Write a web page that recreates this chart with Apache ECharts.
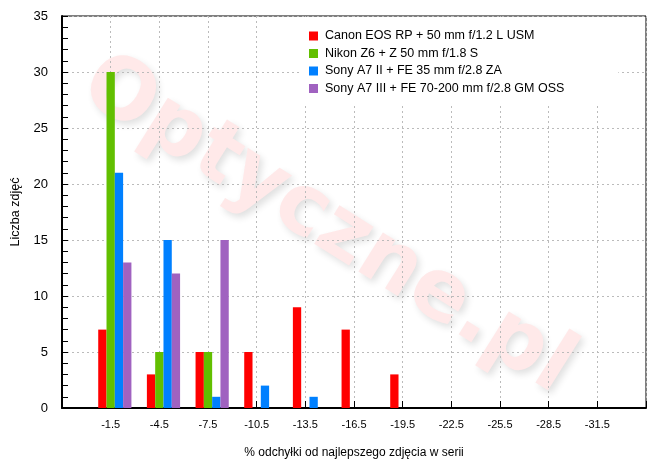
<!DOCTYPE html>
<html>
<head>
<meta charset="utf-8">
<script src="https://cdn.jsdelivr.net/npm/echarts@6/dist/echarts.min.js"></script>
<style>
  html, body { margin: 0; padding: 0; background: #fff; }
  #main { width: 670px; height: 463px; }
</style>
</head>
<body>
<div id="main"></div>
<script>
// kategorie osi X (% odchyłki)
var categories = ['-1.5', '-4.5', '-7.5', '-10.5', '-13.5', '-16.5', '-19.5', '-22.5', '-25.5', '-28.5', '-31.5'];
// liczba zdjęć w każdej kategorii
var canonValues = [7, 3, 5, 5, 9, 7, 3, 0, 0, 0, 0];
var nikonValues = [30, 5, 5, 0, 0, 0, 0, 0, 0, 0, 0];
var sonyA7IIValues = [21, 15, 1, 2, 1, 0, 0, 0, 0, 0, 0];
var sonyA7IIIValues = [13, 12, 15, 0, 0, 0, 0, 0, 0, 0, 0];
var seriesNames = [
    'Canon EOS RP + 50 mm f/1.2 L USM',
    'Nikon Z6 + Z 50 mm f/1.8 S',
    'Sony A7 II + FE 35 mm f/2.8 ZA',
    'Sony A7 III + FE 70-200 mm f/2.8 GM OSS'
];
var seriesColors = ['#ff0000', '#62bf00', '#0080ff', '#a062c0'];
var yTicks = [0, 5, 10, 15, 20, 25, 30, 35];

var myChart = echarts.init(document.getElementById('main'));

// puste miejsca na brzegach osi (jak w oryginale)
var axisData = [''].concat(categories, ['']);
function pad(arr) {
    return [null].concat(arr, [null]);
}

var allValues = [canonValues, nikonValues, sonyA7IIValues, sonyA7IIIValues];
var series = [{
    // pusta seria - przesuwa grupę słupków jak w oryginale
    name: '_',
    type: 'bar',
    data: [],
    barWidth: 8.3,
    barGap: '0%'
}];
for (var i = 0; i < seriesNames.length; i++) {
    series.push({
        name: seriesNames[i],
        type: 'bar',
        data: pad(allValues[i]),
        barWidth: 8.3,
        barGap: '0%',
        itemStyle: { color: seriesColors[i] }
    });
}

var font = 'Liberation Sans, Arial, sans-serif';

var option = {
    animation: false,
    backgroundColor: '#fff',
    textStyle: { fontFamily: font, color: '#000' },
    graphic: [{
        type: 'text',
        x: 327,
        y: 226,
        rotation: -0.56,
        z: -1,
        silent: true,
        style: {
            text: 'Optyczne.pl',
            font: 'bold 84px "DejaVu Sans"',
            fill: '#ffe9e9',
            textAlign: 'center',
            textVerticalAlign: 'middle',
            textShadowColor: 'rgba(0,0,0,0.12)',
            textShadowBlur: 7,
            textShadowOffsetX: 3,
            textShadowOffsetY: 4
        }
    }],
    legend: {
        data: seriesNames,
        orient: 'vertical',
        left: 302,
        top: 17,
        backgroundColor: '#fff',
        padding: [12, 54, 10, 7],
        itemWidth: 9,
        itemHeight: 9,
        itemGap: 3.5,
        icon: 'rect',
        textStyle: { fontFamily: font, fontSize: 12.5, color: '#000', lineHeight: 14, padding: [0, 0, 0, 2] }
    },
    grid: {
        left: 62,
        right: 24,
        top: 16,
        bottom: 55,
        outerBoundsMode: 'none',
        show: true,
        borderColor: '#000',
        borderWidth: 1
    },
    xAxis: {
        type: 'category',
        data: axisData,
        boundaryGap: false,
        name: '% odchyłki od najlepszego zdjęcia w serii',
        nameLocation: 'middle',
        nameGap: 39,
        nameTextStyle: { fontSize: 12, color: '#000' },
        axisLine: { lineStyle: { color: '#000', width: 2 } },
        axisTick: { inside: true, length: 7, lineStyle: { color: '#000' } },
        axisLabel: { fontSize: 11, color: '#000', margin: 11, interval: 0 },
        splitLine: { show: true, lineStyle: { color: '#bbb', type: [2, 3] } }
    },
    yAxis: {
        type: 'value',
        min: yTicks[0],
        max: yTicks[yTicks.length - 1],
        interval: 5,
        name: 'Liczba zdjęć',
        nameLocation: 'middle',
        nameGap: 40,
        nameTextStyle: { fontSize: 12.5, color: '#000' },
        axisLine: { show: true, lineStyle: { color: '#000', width: 2 } },
        axisTick: { show: true, inside: true, length: 6, lineStyle: { color: '#000' } },
        minorTick: { show: true, splitNumber: 5, length: 6, lineStyle: { color: '#000' } },
        axisLabel: { fontSize: 13, color: '#000', margin: 14 },
        splitLine: { show: true, lineStyle: { color: '#bbb', type: [2, 3] } }
    },
    series: series
};

myChart.setOption(option);
</script>
</body>
</html>
